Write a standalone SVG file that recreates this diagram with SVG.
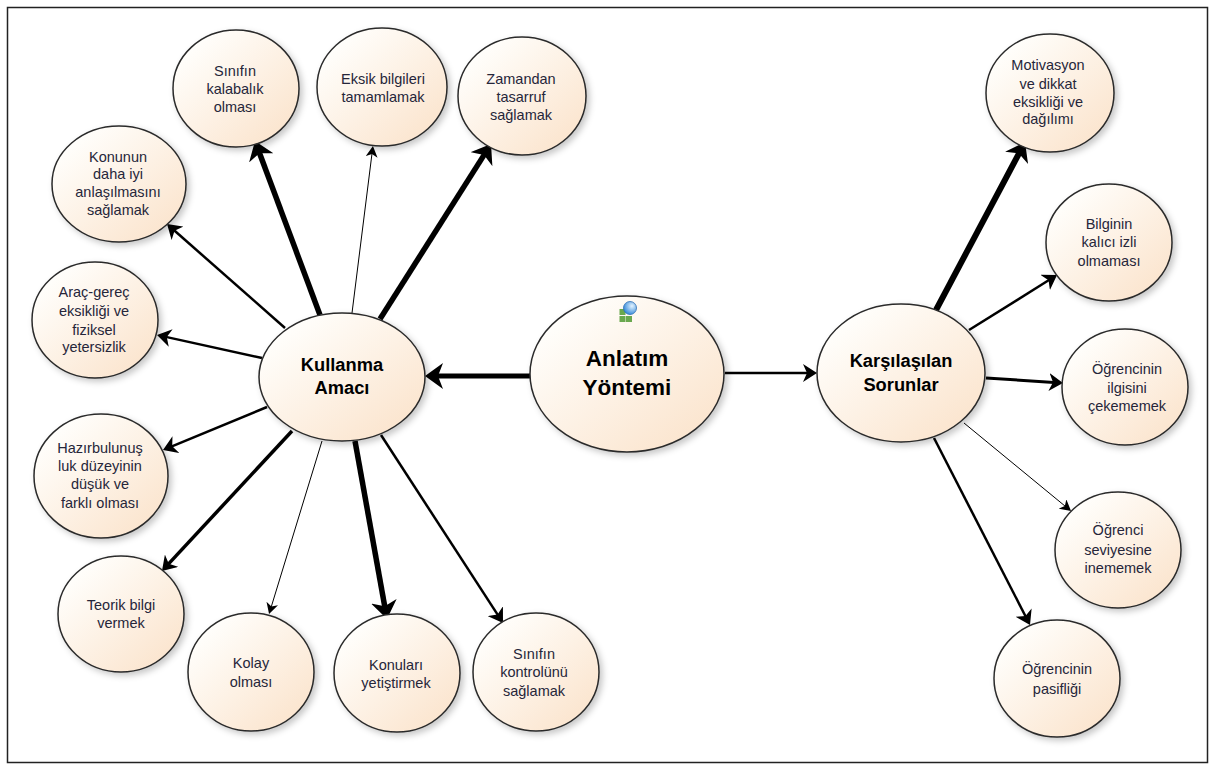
<svg xmlns="http://www.w3.org/2000/svg" width="1213" height="764" viewBox="0 0 1213 764">
<style>
.n{fill:url(#g);stroke:#2b2b2b;stroke-width:1.500;filter:url(#s)}
.c{stroke:#000;fill:none}
text{font-family:"Liberation Sans",Arial,sans-serif;text-anchor:middle;fill:#26263a;font-size:14.5px}
.b{font-weight:bold;fill:#000;font-size:18.300px}
.h{font-weight:bold;fill:#000;font-size:22.500px}
</style>
<defs>
<linearGradient id="g" x1="0" y1="0" x2="1" y2="1"><stop offset="0.150" stop-color="#fffefb"/><stop offset="0.900" stop-color="#fbe4cd"/></linearGradient>
<radialGradient id="o" cx="0.650" cy="0.350" r="0.700"><stop offset="0" stop-color="#e3f3ff"/><stop offset="1" stop-color="#2f86d8"/></radialGradient>
<filter id="s" x="-10%" y="-10%" width="125%" height="125%"><feDropShadow dx="3" dy="3" stdDeviation="3" flood-color="#000" flood-opacity="0.220"/></filter>
<marker id="big" viewBox="0 0 18 26" refX="6" refY="13" markerWidth="18" markerHeight="26" markerUnits="userSpaceOnUse" orient="auto"><path d="M0 0L18 13L0 26L5 13Z" fill="#000"/></marker>
<marker id="med" viewBox="0 0 14 18" refX="5" refY="9" markerWidth="14" markerHeight="18" markerUnits="userSpaceOnUse" orient="auto"><path d="M0 0L14 9L0 18L4 9Z" fill="#000"/></marker>
<marker id="sm" viewBox="0 0 11 12" refX="5" refY="6" markerWidth="11" markerHeight="12" markerUnits="userSpaceOnUse" orient="auto"><path d="M0 0L11 6L0 12L3 6Z" fill="#000"/></marker>
</defs>
<rect width="1213" height="764" fill="#fff"/>
<rect x="7.500" y="7.500" width="1200" height="755" fill="none" stroke="#222" stroke-width="1.500"/>
<g id="connectors">
<path class="c" stroke-width="5" marker-end="url(#big)" d="M530 376L437 376"/>
<path class="c" stroke-width="2.500" marker-end="url(#med)" d="M725 373L808 373"/>
<path class="c" stroke-width="5.500" marker-end="url(#big)" d="M320 315L259.200 152.200"/>
<path class="c" stroke-width="1" marker-end="url(#sm)" d="M352 313L372.200 152"/>
<path class="c" stroke-width="5.500" marker-end="url(#big)" d="M380 319L484.600 154.100"/>
<path class="c" stroke-width="2.500" marker-end="url(#med)" d="M285 328L173.800 230"/>
<path class="c" stroke-width="2.500" marker-end="url(#med)" d="M262 358L165.800 336.900"/>
<path class="c" stroke-width="2.500" marker-end="url(#med)" d="M267 407L171.300 446.600"/>
<path class="c" stroke-width="3.500" marker-end="url(#med)" d="M292 431L168.100 564.400"/>
<path class="c" stroke-width="1" marker-end="url(#sm)" d="M322 441L270.800 608.300"/>
<path class="c" stroke-width="5.500" marker-end="url(#big)" d="M355 441L384.900 607.200"/>
<path class="c" stroke-width="2.500" marker-end="url(#med)" d="M381 435L498.100 615.400"/>
<path class="c" stroke-width="6" marker-end="url(#big)" d="M936 310L1019.400 152.600"/>
<path class="c" stroke-width="2.500" marker-end="url(#med)" d="M969 330L1049.400 279.800"/>
<path class="c" stroke-width="3" marker-end="url(#med)" d="M986 378L1054 382.400"/>
<path class="c" stroke-width="1" marker-end="url(#sm)" d="M964 423L1066.400 507.200"/>
<path class="c" stroke-width="2.500" marker-end="url(#med)" d="M934 438L1025.900 617"/>
</g>
<g id="n-sinif"><ellipse class="n" cx="236" cy="88.500" rx="63" ry="58.500"/><text x="235" y="76">Sınıfın</text><text x="235" y="94">kalabalık</text><text x="235" y="112">olması</text></g>
<g id="n-eksik"><ellipse class="n" cx="382" cy="87" rx="65" ry="59"/><text x="383" y="84">Eksik bilgileri</text><text x="383" y="102">tamamlamak</text></g>
<g id="n-zaman"><ellipse class="n" cx="522" cy="96" rx="64" ry="59"/><text x="521" y="84">Zamandan</text><text x="521" y="102">tasarruf</text><text x="521" y="120">sağlamak</text></g>
<g id="n-konunun"><ellipse class="n" cx="119" cy="184" rx="67" ry="58"/><text x="118" y="162">Konunun</text><text x="118" y="179">daha iyi</text><text x="118" y="197">anlaşılmasını</text><text x="118" y="215">sağlamak</text></g>
<g id="n-arac"><ellipse class="n" cx="95" cy="320" rx="63" ry="58"/><text x="94" y="297">Araç-gereç</text><text x="94" y="316">eksikliği ve</text><text x="94" y="335">fiziksel</text><text x="94" y="352">yetersizlik</text></g>
<g id="n-hazir"><ellipse class="n" cx="101" cy="476" rx="67" ry="62"/><text x="100" y="453">Hazırbulunuş</text><text x="100" y="471">luk düzeyinin</text><text x="100" y="489">düşük ve</text><text x="100" y="508">farklı olması</text></g>
<g id="n-teorik"><ellipse class="n" cx="121" cy="614" rx="63" ry="58"/><text x="121" y="610">Teorik bilgi</text><text x="121" y="628">vermek</text></g>
<g id="n-kolay"><ellipse class="n" cx="251" cy="672" rx="63" ry="59"/><text x="251" y="668">Kolay</text><text x="251" y="687">olması</text></g>
<g id="n-konulari"><ellipse class="n" cx="397" cy="673" rx="63" ry="59"/><text x="396" y="670">Konuları</text><text x="396" y="688">yetiştirmek</text></g>
<g id="n-kontrol"><ellipse class="n" cx="536" cy="672" rx="63" ry="59"/><text x="534" y="659">Sınıfın</text><text x="534" y="677">kontrolünü</text><text x="534" y="696">sağlamak</text></g>
<g id="n-kullanma"><ellipse class="n" cx="342" cy="377" rx="83" ry="64"/><text class="b" x="342" y="371">Kullanma</text><text class="b" x="342" y="394">Amacı</text></g>
<g id="n-anlatim"><ellipse class="n" cx="627" cy="374" rx="97" ry="78"/><text class="h" x="627" y="366">Anlatım</text><text class="h" x="627" y="395">Yöntemi</text>
<rect x="619.500" y="309" width="6" height="6" fill="#6aa84f"/><rect x="619.500" y="316" width="6" height="6" fill="#6aa84f"/><rect x="626" y="316" width="6" height="6" fill="#6aa84f"/><circle cx="630" cy="308" r="6.500" fill="url(#o)" stroke="#2f6fb5" stroke-width="0.800"/></g>
<g id="n-karsi"><ellipse class="n" cx="901" cy="373" rx="84" ry="69"/><text class="b" x="901" y="367">Karşılaşılan</text><text class="b" x="901" y="391">Sorunlar</text></g>
<g id="n-motiv"><ellipse class="n" cx="1050" cy="93" rx="64" ry="59"/><text x="1048" y="70">Motivasyon</text><text x="1048" y="89">ve dikkat</text><text x="1048" y="107">eksikliği ve</text><text x="1048" y="124">dağılımı</text></g>
<g id="n-bilgi"><ellipse class="n" cx="1109" cy="242.500" rx="63" ry="58.500"/><text x="1109" y="229">Bilginin</text><text x="1109" y="247">kalıcı izli</text><text x="1109" y="266">olmaması</text></g>
<g id="n-ilgi"><ellipse class="n" cx="1125" cy="387" rx="63" ry="58"/><text x="1127" y="374">Öğrencinin</text><text x="1127" y="393">ilgisini</text><text x="1127" y="411">çekememek</text></g>
<g id="n-sev"><ellipse class="n" cx="1118" cy="550" rx="63" ry="58"/><text x="1118" y="535">Öğrenci</text><text x="1118" y="555">seviyesine</text><text x="1118" y="573">inememek</text></g>
<g id="n-pasif"><ellipse class="n" cx="1057" cy="678.500" rx="63" ry="58.500"/><text x="1057" y="674">Öğrencinin</text><text x="1057" y="694">pasifliği</text></g>
</svg>
